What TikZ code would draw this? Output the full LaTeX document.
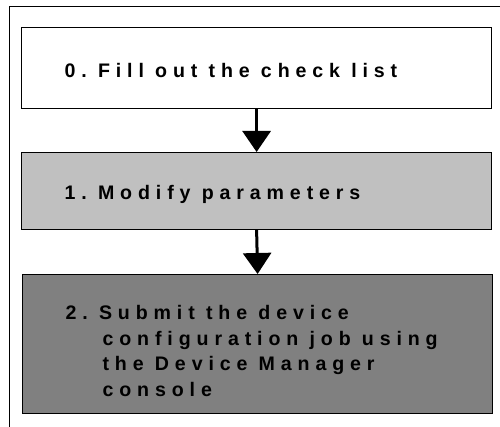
\documentclass[tikz,border=0pt]{standalone}
\usepackage{fontspec}
\usetikzlibrary{arrows.meta}
\newfontfamily\boxfont{Liberation Sans Bold}[LetterSpace=30]
\newcommand\wsp{\hspace{11.2pt}}
\definecolor{lightfill}{HTML}{C0C0C0}
\definecolor{darkfill}{HTML}{808080}
\begin{document}
\begin{tikzpicture}[x=1pt,y=1pt,
  stepbox/.style={draw=black, line width=1.2pt, minimum width=470pt,
    inner xsep=43pt, inner ysep=0pt, text width=384pt, align=left,
    font=\boxfont\fontsize{19.6}{25.5}\selectfont, anchor=north west},
  flow/.style={-{Triangle[width=28pt,length=21pt]}, line width=3pt}]
\useasboundingbox (0,0) rectangle (500,-427);
\draw[line width=0.8pt] (9,-427) -- (9,-6) -- (500,-6);
\node[stepbox, fill=white, minimum height=81pt] (b0) at (21,-27)
  {\rule{0pt}{18.3pt}0.\wsp Fill\wsp out\wsp the\wsp check\wsp list};
\node[stepbox, fill=lightfill, minimum height=77pt] (b1) at (21,-152)
  {\rule{0pt}{21.5pt}1.\wsp Modify\wsp parameters};
\node[stepbox, fill=darkfill, minimum height=139pt] (b2) at (22,-274)
  {\rule{0pt}{28pt}2.\wsp Submit\wsp the\wsp device\\
   \hspace*{37pt}configuration\wsp job\wsp using\\
   \hspace*{37pt}the\wsp Device\wsp Manager\\
   \hspace*{37pt}console};
\draw[flow] (b0.south) -- (b1.north);
\draw[flow] (b1.south) -- (b2.north);
\end{tikzpicture}
\end{document}
